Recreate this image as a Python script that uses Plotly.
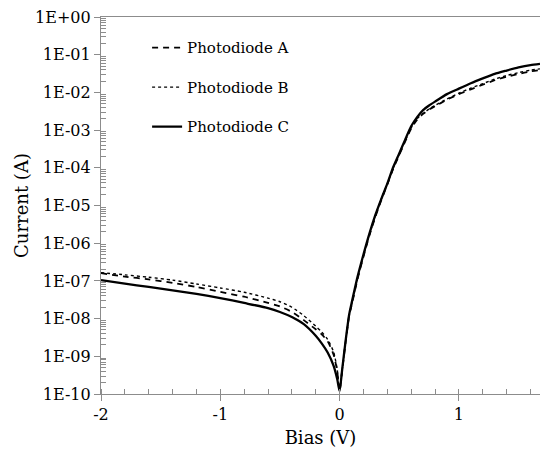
import plotly.graph_objects as go

# Bias voltage (V)
bias = [-2.0, -1.8, -1.6, -1.4, -1.2, -1.0, -0.8, -0.6, -0.5, -0.4, -0.3, -0.2,
        -0.15, -0.1, -0.05, -0.02, 0.0,
        0.02, 0.05, 0.08, 0.1, 0.15, 0.2, 0.25, 0.3, 0.35, 0.4, 0.45, 0.5,
        0.55, 0.6, 0.65, 0.7, 0.75, 0.8, 0.9, 1.0, 1.1, 1.2, 1.3, 1.4, 1.5, 1.6, 1.68]

# Measured current (A) for each photodiode
current_a = [1.6e-7, 1.3e-7, 1.1e-7, 8.9e-8, 6.9e-8, 5.1e-8, 3.8e-8, 2.6e-8, 2.1e-8,
             1.5e-8, 9.1e-9, 5.2e-9, 3.8e-9, 2.5e-9, 1.1e-9, 4.0e-10, 1.2e-10,
             3.8e-10, 2.3e-9, 1.2e-8, 2.2e-8, 1.1e-7, 4.4e-7, 1.6e-6, 5.0e-6, 1.4e-5,
             3.6e-5, 9.5e-5, 2.2e-4, 5.0e-4, 1.1e-3, 1.9e-3, 2.7e-3, 3.5e-3, 4.3e-3,
             6.4e-3, 9.0e-3, 1.2e-2, 1.6e-2, 2.1e-2, 2.6e-2, 3.1e-2, 3.6e-2, 3.9e-2]

current_b = [1.65e-7, 1.45e-7, 1.25e-7, 1.05e-7, 8.3e-8, 6.5e-8, 5.0e-8, 3.5e-8, 2.8e-8,
             2.0e-8, 1.2e-8, 6.3e-9, 4.4e-9, 2.8e-9, 1.3e-9, 4.5e-10, 1.2e-10,
             3.9e-10, 2.4e-9, 1.2e-8, 2.3e-8, 1.15e-7, 4.6e-7, 1.7e-6, 5.2e-6, 1.5e-5,
             3.7e-5, 1.0e-4, 2.3e-4, 5.2e-4, 1.15e-3, 2.0e-3, 2.8e-3, 3.6e-3, 4.5e-3,
             6.7e-3, 9.5e-3, 1.3e-2, 1.7e-2, 2.25e-2, 2.8e-2, 3.35e-2, 3.9e-2, 4.2e-2]

current_c = [1.05e-7, 8.5e-8, 6.9e-8, 5.6e-8, 4.5e-8, 3.5e-8, 2.6e-8, 1.9e-8, 1.5e-8,
             1.1e-8, 7.1e-9, 3.5e-9, 2.2e-9, 1.26e-9, 5.6e-10, 2.5e-10, 1.2e-10,
             4.0e-10, 2.5e-9, 1.26e-8, 2.5e-8, 1.26e-7, 5.0e-7, 1.8e-6, 5.6e-6, 1.5e-5,
             3.8e-5, 1.05e-4, 2.4e-4, 5.6e-4, 1.26e-3, 2.2e-3, 3.4e-3, 4.5e-3, 5.7e-3,
             9.0e-3, 1.26e-2, 1.75e-2, 2.35e-2, 3.1e-2, 3.8e-2, 4.6e-2, 5.3e-2, 5.7e-2]

series_names = ["Photodiode A", "Photodiode B", "Photodiode C"]

y_tick_vals = [10.0 ** -k for k in range(0, 11)]
y_tick_text = ["1E+00", "1E-01", "1E-02", "1E-03", "1E-04", "1E-05",
               "1E-06", "1E-07", "1E-08", "1E-09", "1E-10"]
x_tick_vals = [-2, -1, 0, 1]
x_tick_text = ["-2", "-1", "0", "1"]

FONT = "DejaVu Serif"
AXIS_GREY = "#8c8c8c"

y_minor = [m * 10.0 ** -k for k in range(1, 11) for m in range(2, 10)]

fig = go.Figure()
styles = [
    dict(color="black", width=1.8, dash="6px,5px"),
    dict(color="black", width=1.4, dash="dot"),
    dict(color="black", width=2.3, dash="solid"),
]
for name, ys, style in zip(series_names, [current_a, current_b, current_c], styles):
    fig.add_trace(go.Scatter(x=bias, y=ys, mode="lines", name=name,
                             legendgroup=name, line=dict(shape="spline", smoothing=0.6, **style)))

fig.update_layout(
    width=540, height=450,
    margin=dict(l=101, r=0, t=17, b=56),
    paper_bgcolor="white", plot_bgcolor="white",
    font=dict(family=FONT, size=16, color="black"),
    showlegend=True,
    legend=dict(x=0.105, y=0.962, xanchor="left", yanchor="top",
                bgcolor="rgba(0,0,0,0)", tracegroupgap=17,
                font=dict(family=FONT, size=15, color="black"),
                itemwidth=30),
)

fig.update_xaxes(
    range=[-2, 1.68],
    tickmode="array", tickvals=x_tick_vals, ticktext=x_tick_text,
    ticks="outside", ticklen=6, tickcolor=AXIS_GREY, tickwidth=1,
    showline=True, linecolor=AXIS_GREY, linewidth=1.3, mirror=True,
    showgrid=False, zeroline=False,
    minor=dict(dtick=0.2, tick0=0, ticks="inside", ticklen=5,
               tickcolor=AXIS_GREY, showgrid=False),
    title=dict(text="Bias (V)", standoff=8, font=dict(size=18)),
)

fig.update_yaxes(
    type="log", range=[-10, 0],
    tickmode="array", tickvals=y_tick_vals, ticktext=y_tick_text,
    ticks="outside", ticklen=6, tickcolor=AXIS_GREY, tickwidth=1,
    showline=True, linecolor=AXIS_GREY, linewidth=1.3,
    showgrid=False, zeroline=False,
    minor=dict(tickmode="array", tickvals=y_minor, ticks="inside", ticklen=5,
               tickcolor=AXIS_GREY, showgrid=False),
    title=dict(text="Current (A)", standoff=1, font=dict(size=18)),
)

fig.write_html("out.html")
